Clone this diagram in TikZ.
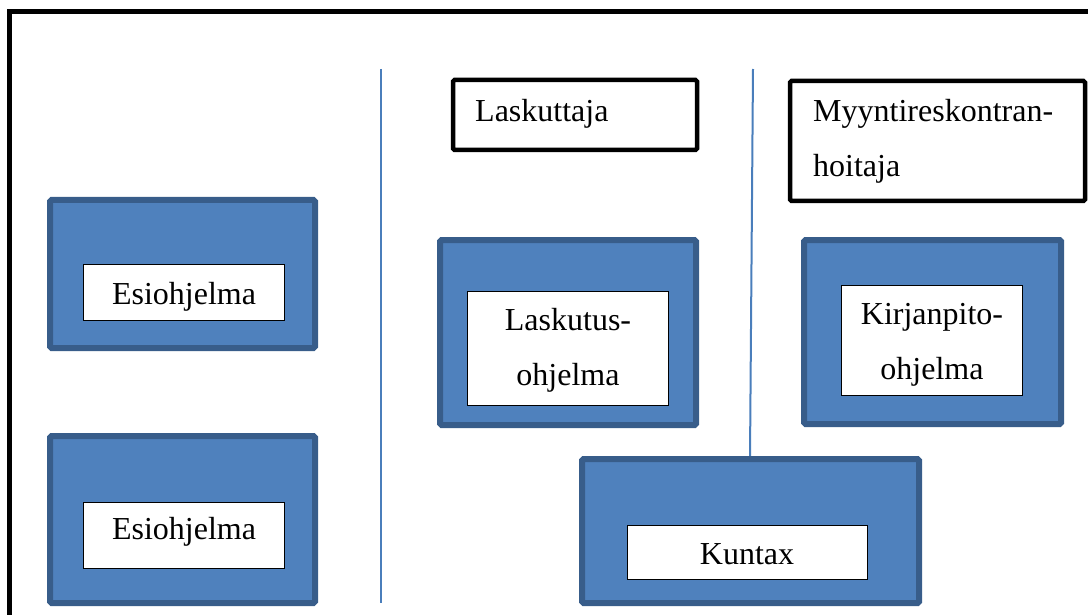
\documentclass[tikz,border=0pt]{standalone}
\usepackage{fontspec}
\setmainfont{Liberation Serif}
\definecolor{boxfill}{HTML}{4F81BD}
\definecolor{boxedge}{HTML}{385D8A}
\definecolor{sepline}{HTML}{4A7EBB}
\begin{document}
\begin{tikzpicture}[x=1pt,y=-1pt,
  bluebox/.style={draw=boxedge,fill=boxfill,line width=6pt,rounded corners=1.5pt,inner sep=0pt,anchor=center},
  whitebox/.style={draw=black,fill=white,line width=1.3pt,inner sep=0pt,anchor=center},
  rolebox/.style={draw=black,fill=white,line width=4.5pt,rounded corners=1.5pt,inner sep=0pt,anchor=center},
  lbl/.style={font=\fontsize{32}{55}\selectfont,inner sep=0pt},
  sep/.style={draw=sepline,line width=2pt}]
\useasboundingbox (0,0) rectangle (1088,615);
\clip (0,0) rectangle (1088,615);
% outer frame (open to right and bottom)
\coordinate (fbl) at (9.5,700);
\coordinate (ftl) at (9.5,11.5);
\coordinate (ftr) at (1120,11.5);
\draw[line width=5pt] (fbl) -- (ftl) -- (ftr);
% separator lines
\coordinate (s1t) at (381,69);
\coordinate (s1b) at (381,603);
\draw[sep] (s1t) -- (s1b);
% blue boxes
\node[bluebox,minimum width=265,minimum height=148] (b1) at (182.5,274) {};
\node[bluebox,minimum width=265,minimum height=167] (b2) at (182.5,519.5) {};
\node[bluebox,minimum width=256,minimum height=185] (b3) at (568,332.5) {};
\node[bluebox,minimum width=257,minimum height=184] (b4) at (932.5,332) {};
\coordinate (s2t) at (753,69);
\coordinate (s2b) at (750,458);
\draw[sep] (s2t) -- (s2b);
\node[bluebox,minimum width=337,minimum height=144] (b5) at (750.5,531) {};
% inner white boxes
\node[whitebox,minimum width=201,minimum height=56] (w1) at (184,292.5) {};
\node[whitebox,minimum width=201,minimum height=66] (w2) at (184,535.5) {};
\node[whitebox,minimum width=201,minimum height=114] (w3) at (568,348.5) {};
\node[whitebox,minimum width=181,minimum height=110] (w4) at (932,340.5) {};
\node[whitebox,minimum width=240,minimum height=54] (w5) at (747.5,552.5) {};
% role boxes
\node[rolebox,minimum width=244,minimum height=70] (r1) at (575,115) {};
\node[rolebox,minimum width=295,minimum height=120] (r2) at (937.5,141) {};
% labels
\node[lbl,anchor=base] (t1) at (184,304) {Esiohjelma};
\node[lbl,anchor=base] (t2) at (184,539) {Esiohjelma};
\node[lbl,anchor=base] (t3a) at (568,330) {Laskutus-};
\node[lbl,anchor=base] (t3b) at (568,385) {ohjelma};
\node[lbl,anchor=base] (t4a) at (932,324) {Kirjanpito-};
\node[lbl,anchor=base] (t4b) at (932,379) {ohjelma};
\node[lbl,anchor=base] (t5) at (747,564) {Kuntax};
\node[lbl,anchor=base west] (t6) at (475,122) {Laskuttaja};
\node[lbl,anchor=base west] (t7a) at (813,122) {Myyntireskontran-};
\node[lbl,anchor=base west] (t7b) at (813,177) {hoitaja};
\end{tikzpicture}
\end{document}
